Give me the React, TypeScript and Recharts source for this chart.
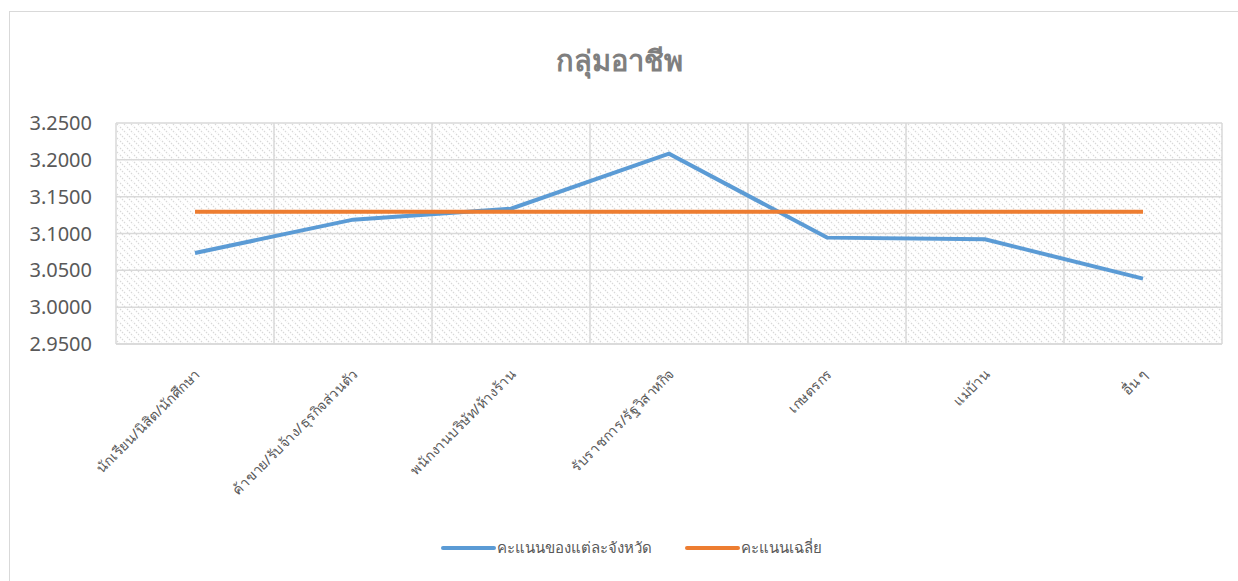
import React from 'react'
import { LineChart, Line, XAxis, YAxis, CartesianGrid, Legend } from 'recharts'

// occupation groups (x axis)
const categories = [
  'นักเรียน/นิสิต/นักศึกษา',
  'ค้าขาย/รับจ้าง/ธุรกิจส่วนตัว',
  'พนักงานบริษัท/ห้างร้าน',
  'รับราชการ/รัฐวิสาหกิจ',
  'เกษตรกร',
  'แม่บ้าน',
  'อื่น ๆ',
]

// score of each province
const provinceScores = [3.0736, 3.1188, 3.1337, 3.2084, 3.0944, 3.0921, 3.0388]
// overall average score
const averageScores = [3.1294, 3.1294, 3.1294, 3.1294, 3.1294, 3.1294, 3.1294]

const yTicks = [2.95, 3.0, 3.05, 3.1, 3.15, 3.2, 3.25]

const SERIES = [
  { key: 'province', name: 'คะแนนของแต่ละจังหวัด', color: '#5B9BD5' },
  { key: 'average', name: 'คะแนนเฉลี่ย', color: '#ED7D31' },
]

const data = categories.map((name, i) => ({
  name,
  province: provinceScores[i],
  average: averageScores[i],
}))

const FONT = '"Noto Sans", "DejaVu Sans", sans-serif'
const TEXT = '#595959'
const GRID = '#d9d9d9'

function CategoryTick({ x, y, payload }: any) {
  return (
    <g transform={`translate(${x + 6},${y + 29})`}>
      <text transform="rotate(-45)" textAnchor="end" fill={TEXT} fontSize={14} fontFamily={FONT}>
        {payload.value}
      </text>
    </g>
  )
}

function LegendContent() {
  return (
    <div
      style={{
        display: 'flex',
        justifyContent: 'center',
        paddingLeft: 24,
        fontFamily: FONT,
        fontSize: 15,
        color: TEXT,
      }}
    >
      {SERIES.map((s, i) => (
        <div key={s.key} style={{ display: 'flex', alignItems: 'center', marginLeft: i ? 32 : 0 }}>
          <svg width={57} height={8}>
            <line x1={3} y1={4} x2={54} y2={4} stroke={s.color} strokeWidth={4} strokeLinecap="round" />
          </svg>
          <span>{s.name}</span>
        </div>
      ))}
    </div>
  )
}

export default function App() {
  const W = 1238
  const H = 581
  return (
    <div style={{ position: 'fixed', left: 0, top: 0, width: W, height: H, overflow: 'hidden', background: '#fff' }}>
      <div
        style={{
          position: 'absolute',
          left: 9,
          top: 11,
          width: 1260,
          height: 600,
          border: `1px solid ${GRID}`,
        }}
      />
      <div
        style={{
          position: 'absolute',
          top: 38,
          left: 0,
          width: W,
          textAlign: 'center',
          fontFamily: FONT,
          fontWeight: 'bold',
          fontSize: 29,
          color: '#7f7f7f',
        }}
      >
        กลุ่มอาชีพ
      </div>
      <div style={{ position: 'absolute', left: 0, top: 0 }}>
        <LineChart width={W} height={H} data={data} margin={{ top: 123, right: 16, bottom: 87, left: 16 }}>
          <defs>
            <pattern id="hatch" patternUnits="userSpaceOnUse" width={7} height={7}>
              <path
                d="M-1,-1 L8,8 M-1,6 L1,8 M6,-1 L8,1"
                stroke="#d6d6d6"
                strokeWidth={1.1}
                strokeDasharray="1.6 1.2"
              />
            </pattern>
          </defs>
          <CartesianGrid
            stroke={GRID}
            strokeWidth={1.5}
            fill="url(#hatch)"
            fillOpacity={1}
            verticalCoordinatesGenerator={({ offset }: any) =>
              [...categories, ''].map((_, i) => offset.left + (offset.width * i) / categories.length)
            }
          />
          <XAxis
            dataKey="name"
            scale="band"
            height={150}
            interval={0}
            tickLine={false}
            tickSize={0}
            axisLine={{ stroke: GRID, strokeWidth: 1.5 }}
            tick={<CategoryTick />}
          />
          <YAxis
            width={100}
            domain={[2.95, 3.25]}
            ticks={yTicks}
            axisLine={false}
            tickLine={false}
            tickSize={0}
            tickMargin={24}
            tickFormatter={(v: number) => v.toFixed(4)}
            tick={{ fill: TEXT, fontSize: 20, fontFamily: FONT }}
          />
          <Legend
            layout="horizontal"
            verticalAlign="middle"
            align="center"
            wrapperStyle={{ top: 536, left: 0, width: W }}
            content={<LegendContent />}
          />
          {SERIES.map((s) => (
            <Line
              key={s.key}
              type="linear"
              dataKey={s.key}
              name={s.name}
              stroke={s.color}
              strokeWidth={4}
              dot={false}
              activeDot={false}
              isAnimationActive={false}
            />
          ))}
        </LineChart>
      </div>
    </div>
  )
}
